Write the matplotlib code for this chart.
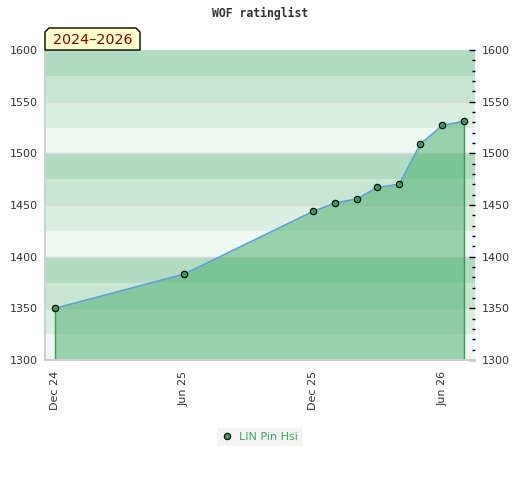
import matplotlib
matplotlib.use("Agg")
import matplotlib.pyplot as plt
from matplotlib.patches import Polygon
from matplotlib.lines import Line2D
from matplotlib.ticker import MultipleLocator
import datetime as dt

dates = ["2024-12-01", "2025-06-01", "2025-12-01", "2026-01-01", "2026-02-01",
         "2026-03-01", "2026-04-01", "2026-05-01", "2026-06-01", "2026-07-01"]
ratings = [1350, 1383, 1444, 1452, 1456, 1467, 1470, 1509, 1527, 1531]
player = "LIN Pin Hsi"
title = "WOF ratinglist"
badge = "2024–2026"
tick_dates = ["2024-12-01", "2025-06-01", "2025-12-01", "2026-06-01"]
tick_labels = ["Dec 24", "Jun 25", "Dec 25", "Jun 26"]
y_min, y_max = 1300, 1600

x = [dt.datetime.strptime(d, "%Y-%m-%d") for d in dates]
xt = [dt.datetime.strptime(d, "%Y-%m-%d") for d in tick_dates]

W, H = 520, 480
fig = plt.figure(figsize=(W / 100, H / 100), dpi=100)
ax = fig.add_axes([45 / W, 1 - 360 / H, 430 / W, 310 / H])

band_colors = ["#eef7f1", "#dbeee2", "#c8e5d3", "#b2dcc2"]
v = y_min
i = 0
while v < y_max:
    ax.axhspan(v, v + 25, color=band_colors[i % 4], lw=0, zorder=0)
    v += 25
    i += 1
for g in range(y_min + 50, y_max, 50):
    ax.axhline(g, color="#d8d8d8", lw=1, zorder=0.5)

ax.fill_between(x, ratings, y_min, color="#49ae6c", alpha=0.52, lw=0, zorder=1)
ax.vlines([x[0], x[-1]], y_min, [ratings[0], ratings[-1]], color="#3a9d5a", lw=1, zorder=2)
ax.plot(x, ratings, color="#5fa0d8", lw=1.2, zorder=3)
ax.plot(x, ratings, ls="none", marker="o", ms=4.6, mfc="#3a9a5a", mec="black", mew=0.8, zorder=4)

ax.set_xlim(dt.datetime(2024, 11, 17), dt.datetime(2026, 7, 17))
ax.set_ylim(y_min, y_max)
ax.set_xticks(xt)
ax.set_xticklabels(tick_labels, rotation=90, fontsize=8, color="#333333")
ax.tick_params(axis="x", length=0, pad=8)

ax.yaxis.set_major_locator(MultipleLocator(50))
ax.yaxis.set_minor_locator(MultipleLocator(10))
ax.tick_params(axis="y", which="both", left=False, right=True, labelleft=True, labelright=True,
               direction="in", labelsize=8, colors="black")
ax.tick_params(axis="y", which="major", length=4, width=1, pad=5)
ax.tick_params(axis="y", which="minor", length=2, width=1)
for lab in ax.get_yticklabels():
    lab.set_color("#333333")

for s in ["top", "right"]:
    ax.spines[s].set_visible(False)
for s in ["left", "bottom"]:
    ax.spines[s].set_color("#d0d0d0")
    ax.spines[s].set_linewidth(1.5)

fig.text(0.5, 1 - 13 / H, title, ha="center", va="center", fontsize=8.3,
         family="DejaVu Sans Mono", fontweight="bold", color="#333333")

px = [(45, 50), (45, 32), (49, 28), (136, 28), (140, 32), (140, 50)]
poly = Polygon([(a / W, 1 - b / H) for a, b in px], closed=True, transform=fig.transFigure,
               facecolor="#ffffcc", edgecolor="black", lw=1, zorder=5)
fig.patches.append(poly)
fig.text(92.5 / W, 1 - 40 / H, badge, ha="center", va="center", fontsize=10.3, color="#8b0000", zorder=6)

handle = Line2D([], [], ls="none", marker="o", ms=4.6, mfc="#3a9a5a", mec="black", mew=0.8)
leg = fig.legend([handle], [player], loc="center", bbox_to_anchor=(260 / W, 1 - 437 / H),
                 frameon=True, fancybox=False, fontsize=8, handlelength=1, handletextpad=0.6,
                 borderpad=0.4)
leg.get_frame().set_facecolor("#f0f0f0")
leg.get_frame().set_edgecolor("none")
for t in leg.get_texts():
    t.set_color("#3aaa5e")

fig.savefig("out.png", dpi=100)
